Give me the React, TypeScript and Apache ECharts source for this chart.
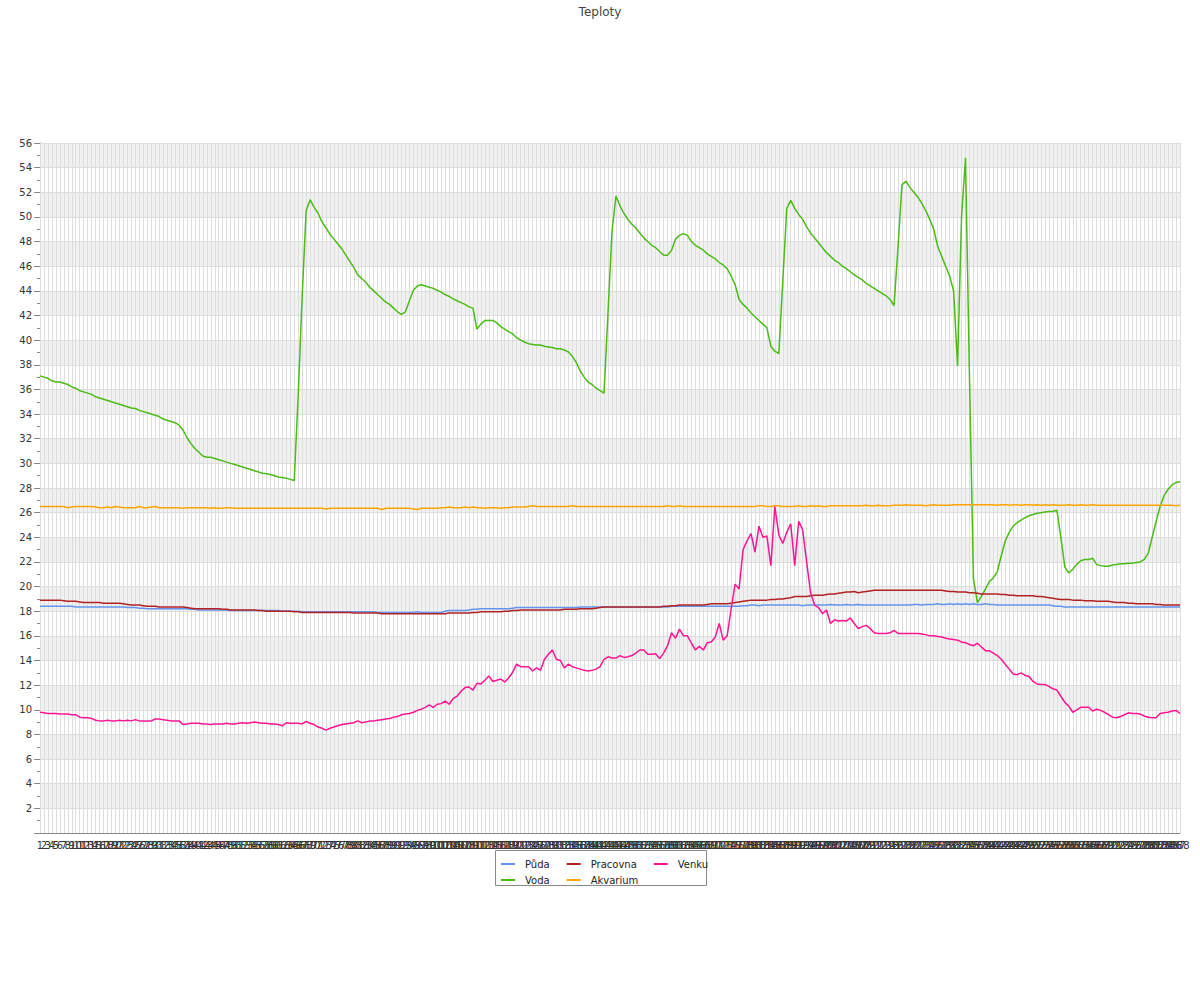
import React, { useEffect, useRef } from "react";
import * as echarts from "echarts";

const categories: string[] = Array.from({ length: 288 }, (_, i) => String(i + 1));

const puda: number[] = [
18.4,18.4,18.4,18.4,18.4,18.4,18.4,18.4,18.4,18.35,
18.35,18.35,18.35,18.35,18.35,18.35,18.35,18.35,18.35,18.35,
18.35,18.35,18.3,18.3,18.3,18.25,18.25,18.2,18.2,18.2,
18.2,18.2,18.2,18.2,18.2,18.2,18.2,18.2,18.15,18.15,
18.1,18.1,18.1,18.1,18.1,18.1,18.1,18.1,18.05,18.05,
18.05,18.05,18.05,18.05,18.05,18.05,18.05,18.05,18.05,18.05,
18.05,18.0,18.0,18.0,18.0,18.0,17.95,17.95,17.95,17.95,
17.95,17.95,17.95,17.95,17.95,17.95,17.95,17.95,17.95,17.95,
17.95,17.95,17.95,17.95,17.95,17.9,17.9,17.9,17.9,17.9,
17.9,17.9,17.9,17.9,17.9,17.95,17.9,17.9,17.9,17.9,
17.9,17.9,18.0,18.05,18.05,18.05,18.05,18.05,18.1,18.15,
18.15,18.2,18.2,18.2,18.2,18.2,18.2,18.2,18.2,18.25,
18.3,18.3,18.3,18.3,18.3,18.3,18.3,18.3,18.3,18.3,
18.3,18.3,18.3,18.3,18.3,18.3,18.35,18.35,18.35,18.35,
18.35,18.35,18.35,18.35,18.35,18.35,18.35,18.35,18.35,18.35,
18.35,18.35,18.35,18.35,18.35,18.35,18.35,18.35,18.35,18.4,
18.4,18.4,18.4,18.4,18.4,18.4,18.4,18.4,18.4,18.4,
18.4,18.4,18.4,18.4,18.4,18.4,18.4,18.45,18.45,18.5,
18.5,18.45,18.5,18.5,18.5,18.5,18.5,18.5,18.5,18.5,
18.5,18.5,18.45,18.5,18.5,18.5,18.5,18.5,18.5,18.55,
18.5,18.5,18.5,18.55,18.5,18.5,18.55,18.5,18.5,18.5,
18.5,18.5,18.5,18.5,18.5,18.5,18.5,18.5,18.5,18.5,
18.55,18.55,18.5,18.55,18.55,18.55,18.6,18.55,18.55,18.6,
18.55,18.6,18.55,18.6,18.55,18.6,18.55,18.55,18.6,18.55,
18.55,18.5,18.5,18.5,18.5,18.5,18.5,18.5,18.5,18.5,
18.5,18.5,18.5,18.5,18.5,18.45,18.4,18.4,18.35,18.35,
18.35,18.35,18.35,18.35,18.35,18.35,18.35,18.35,18.35,18.35,
18.35,18.35,18.35,18.35,18.35,18.35,18.35,18.35,18.35,18.35,
18.35,18.35,18.35,18.35,18.35,18.35,18.35,18.35,
];

const voda: number[] = [
37.1,37.0,36.9,36.7,36.6,36.6,36.5,36.4,36.2,36.1,
35.9,35.8,35.7,35.6,35.4,35.3,35.2,35.1,35.0,34.9,
34.8,34.7,34.6,34.5,34.45,34.3,34.2,34.1,34.0,33.9,
33.8,33.6,33.5,33.4,33.3,33.1,32.7,32.1,31.6,31.2,
30.9,30.6,30.5,30.5,30.4,30.3,30.2,30.1,30.0,29.9,
29.8,29.7,29.6,29.5,29.4,29.3,29.2,29.15,29.1,29.0,
28.9,28.85,28.8,28.7,28.6,35.5,43.5,50.5,51.4,50.8,
50.3,49.6,49.1,48.6,48.2,47.8,47.4,46.9,46.4,45.9,
45.3,45.0,44.7,44.3,44.0,43.7,43.4,43.1,42.9,42.6,
42.3,42.1,42.3,43.2,44.05,44.4,44.5,44.4,44.3,44.2,
44.05,43.9,43.7,43.55,43.35,43.2,43.05,42.9,42.7,42.6,
40.9,41.3,41.6,41.6,41.6,41.4,41.1,40.9,40.7,40.5,
40.2,40.0,39.85,39.7,39.65,39.6,39.6,39.5,39.45,39.4,
39.3,39.3,39.2,39.05,38.7,38.2,37.5,37.0,36.6,36.4,
36.1,35.9,35.7,42.2,48.8,51.7,50.9,50.3,49.8,49.4,
49.1,48.7,48.3,48.0,47.7,47.5,47.2,46.9,46.9,47.3,
48.2,48.5,48.65,48.5,48.0,47.7,47.5,47.3,47.0,46.8,
46.6,46.3,46.1,45.8,45.2,44.5,43.3,42.9,42.6,42.2,
41.9,41.6,41.3,41.0,39.5,39.1,38.9,44.8,50.7,51.35,
50.7,50.2,49.8,49.2,48.7,48.3,47.9,47.5,47.1,46.8,
46.5,46.3,46.0,45.8,45.55,45.3,45.1,44.9,44.6,44.4,
44.2,44.0,43.8,43.6,43.3,42.8,47.5,52.6,52.9,52.4,
52.0,51.6,51.1,50.5,49.8,49.0,47.6,46.8,46.0,45.2,
44.0,37.9,50.0,54.8,37.0,20.6,18.7,19.2,19.8,20.4,
20.7,21.2,22.5,23.7,24.4,24.9,25.2,25.4,25.6,25.75,
25.85,25.95,26.0,26.05,26.1,26.1,26.2,24.0,21.6,21.1,
21.4,21.8,22.1,22.2,22.2,22.3,21.8,21.7,21.65,21.65,
21.75,21.8,21.85,21.85,21.9,21.9,21.95,22.0,22.2,22.7,
24.0,25.3,26.5,27.4,27.9,28.25,28.45,28.5,
];

const pracovna: number[] = [
18.9,18.9,18.9,18.9,18.9,18.9,18.85,18.8,18.8,18.8,
18.75,18.7,18.7,18.7,18.7,18.7,18.65,18.65,18.65,18.65,
18.65,18.6,18.55,18.5,18.5,18.5,18.45,18.4,18.4,18.4,
18.35,18.35,18.35,18.35,18.35,18.35,18.35,18.3,18.25,18.2,
18.2,18.2,18.2,18.2,18.2,18.2,18.15,18.15,18.1,18.1,
18.1,18.1,18.1,18.1,18.1,18.05,18.05,18.0,18.0,18.0,
18.0,18.0,18.0,18.0,17.95,17.95,17.9,17.9,17.9,17.9,
17.9,17.9,17.9,17.9,17.9,17.9,17.9,17.9,17.9,17.85,
17.85,17.85,17.85,17.85,17.85,17.85,17.8,17.8,17.8,17.8,
17.8,17.8,17.8,17.8,17.8,17.8,17.8,17.8,17.8,17.8,
17.8,17.8,17.8,17.85,17.85,17.85,17.85,17.85,17.85,17.9,
17.9,17.95,17.95,17.95,17.95,17.95,17.95,18.0,18.0,18.05,
18.05,18.1,18.1,18.1,18.1,18.1,18.1,18.1,18.1,18.1,
18.1,18.1,18.15,18.15,18.15,18.15,18.2,18.2,18.2,18.2,
18.25,18.3,18.35,18.35,18.35,18.35,18.35,18.35,18.35,18.35,
18.35,18.35,18.35,18.35,18.35,18.35,18.35,18.4,18.4,18.45,
18.45,18.5,18.5,18.5,18.5,18.5,18.5,18.5,18.55,18.6,
18.6,18.6,18.6,18.6,18.65,18.7,18.75,18.8,18.85,18.9,
18.9,18.9,18.9,18.9,18.95,18.95,19.0,19.0,19.05,19.1,
19.2,19.2,19.2,19.2,19.25,19.3,19.3,19.3,19.35,19.4,
19.4,19.45,19.5,19.55,19.55,19.6,19.5,19.55,19.6,19.65,
19.7,19.7,19.7,19.7,19.7,19.7,19.7,19.7,19.7,19.7,
19.7,19.7,19.7,19.7,19.7,19.7,19.7,19.7,19.65,19.6,
19.6,19.55,19.55,19.55,19.5,19.5,19.45,19.4,19.4,19.4,
19.4,19.4,19.35,19.35,19.3,19.3,19.25,19.25,19.25,19.25,
19.25,19.2,19.2,19.15,19.1,19.05,19.0,18.95,18.95,18.95,
18.9,18.9,18.9,18.85,18.85,18.85,18.8,18.8,18.8,18.8,
18.75,18.7,18.7,18.7,18.65,18.65,18.6,18.6,18.6,18.6,
18.6,18.55,18.55,18.5,18.5,18.5,18.5,18.5,
];

const akvarium: number[] = [
26.5,26.5,26.5,26.5,26.5,26.5,26.5,26.4,26.45,26.5,
26.5,26.5,26.5,26.5,26.45,26.4,26.4,26.45,26.4,26.5,
26.45,26.4,26.4,26.4,26.4,26.5,26.4,26.4,26.45,26.5,
26.4,26.4,26.4,26.4,26.4,26.4,26.35,26.4,26.4,26.4,
26.4,26.4,26.4,26.35,26.4,26.35,26.35,26.4,26.4,26.35,
26.35,26.35,26.35,26.35,26.35,26.35,26.35,26.35,26.35,26.35,
26.35,26.35,26.35,26.35,26.35,26.35,26.35,26.35,26.35,26.35,
26.35,26.35,26.3,26.35,26.35,26.35,26.35,26.35,26.35,26.35,
26.35,26.35,26.35,26.35,26.35,26.35,26.25,26.35,26.35,26.35,
26.35,26.35,26.35,26.35,26.3,26.25,26.35,26.35,26.35,26.35,
26.35,26.4,26.4,26.45,26.4,26.4,26.4,26.45,26.4,26.45,
26.4,26.4,26.35,26.4,26.4,26.4,26.35,26.4,26.4,26.45,
26.45,26.45,26.45,26.5,26.55,26.5,26.5,26.5,26.5,26.5,
26.5,26.5,26.5,26.5,26.55,26.5,26.5,26.5,26.5,26.5,
26.5,26.5,26.5,26.5,26.5,26.5,26.5,26.5,26.5,26.5,
26.5,26.5,26.5,26.5,26.5,26.5,26.5,26.5,26.55,26.5,
26.5,26.55,26.5,26.5,26.5,26.5,26.5,26.5,26.5,26.5,
26.5,26.5,26.5,26.5,26.5,26.5,26.5,26.5,26.5,26.5,
26.5,26.55,26.55,26.5,26.5,26.55,26.55,26.5,26.5,26.5,
26.5,26.55,26.5,26.5,26.55,26.5,26.55,26.5,26.5,26.55,
26.55,26.55,26.55,26.55,26.55,26.55,26.55,26.55,26.6,26.55,
26.55,26.6,26.55,26.55,26.55,26.6,26.6,26.6,26.65,26.6,
26.6,26.6,26.6,26.55,26.6,26.65,26.6,26.6,26.6,26.6,
26.65,26.65,26.65,26.65,26.65,26.65,26.65,26.65,26.65,26.65,
26.65,26.6,26.65,26.65,26.6,26.65,26.65,26.6,26.65,26.65,
26.6,26.65,26.6,26.65,26.6,26.65,26.6,26.6,26.6,26.65,
26.6,26.6,26.65,26.6,26.6,26.65,26.6,26.6,26.6,26.6,
26.6,26.6,26.6,26.6,26.6,26.6,26.6,26.6,26.6,26.6,
26.6,26.6,26.6,26.6,26.6,26.6,26.55,26.6,
];

const venku: number[] = [
9.8,9.75,9.7,9.7,9.7,9.65,9.65,9.65,9.6,9.6,
9.4,9.35,9.35,9.3,9.15,9.1,9.1,9.15,9.1,9.1,
9.15,9.1,9.15,9.1,9.2,9.1,9.1,9.1,9.1,9.25,
9.25,9.2,9.15,9.1,9.1,9.1,8.8,8.85,8.9,8.9,
8.9,8.85,8.85,8.8,8.85,8.85,8.85,8.9,8.85,8.85,
8.9,8.95,8.9,8.95,9.0,8.95,8.9,8.9,8.85,8.85,
8.8,8.7,8.95,8.9,8.9,8.9,8.85,9.05,8.9,8.8,
8.6,8.5,8.35,8.5,8.6,8.7,8.8,8.85,8.9,8.95,
9.1,8.95,9.0,9.1,9.1,9.15,9.2,9.25,9.3,9.4,
9.45,9.6,9.65,9.7,9.8,9.95,10.05,10.2,10.4,10.2,
10.45,10.5,10.7,10.45,10.9,11.1,11.5,11.8,11.85,11.6,
12.15,12.1,12.4,12.75,12.3,12.4,12.5,12.25,12.6,13.05,
13.7,13.5,13.5,13.5,13.15,13.4,13.2,14.1,14.5,14.85,
14.1,14.0,13.4,13.7,13.5,13.4,13.3,13.2,13.15,13.2,
13.3,13.5,14.1,14.3,14.2,14.2,14.4,14.25,14.3,14.4,
14.6,14.85,14.85,14.5,14.5,14.55,14.15,14.6,15.2,16.25,
15.8,16.55,16.0,16.0,15.4,14.85,15.15,14.85,15.45,15.5,
15.9,17.0,15.65,16.0,18.2,20.2,19.8,23.0,23.7,24.3,
22.8,24.9,24.0,24.1,21.7,26.5,24.2,23.5,24.4,25.1,
21.7,25.3,24.6,22.0,19.5,18.5,18.3,17.8,18.1,17.0,
17.3,17.2,17.25,17.2,17.45,17.0,16.6,16.75,16.85,16.6,
16.25,16.2,16.2,16.2,16.25,16.45,16.2,16.2,16.2,16.2,
16.2,16.2,16.15,16.1,16.0,16.0,15.95,15.9,15.8,15.75,
15.7,15.65,15.5,15.45,15.3,15.2,15.4,15.1,14.8,14.8,
14.6,14.4,14.1,13.7,13.3,12.9,12.85,13.0,12.8,12.7,
12.3,12.1,12.05,12.05,11.9,11.7,11.6,11.1,10.6,10.3,
9.8,10.0,10.2,10.2,10.2,9.9,10.05,9.95,9.8,9.6,
9.4,9.35,9.45,9.6,9.75,9.7,9.7,9.65,9.5,9.4,
9.35,9.35,9.7,9.75,9.8,9.9,9.95,9.7,
];

const seriesNames = ["Půda", "Voda", "Pracovna", "Akvarium", "Venku"];
const seriesColors = ["#6495ed", "#4cbb17", "#b22222", "#ffa500", "#ff1493"];
const seriesData = [puda, voda, pracovna, akvarium, venku];
const legendRow1 = ["Půda", "Pracovna", "Venku"];
const legendRow2 = ["Voda", "Akvarium"];

export default function App() {
  const ref = useRef<HTMLDivElement>(null);
  useEffect(() => {
    if (!ref.current) return;
    const chart = echarts.init(ref.current, null, { renderer: "svg" });
    const legendCommon = {
      orient: "horizontal",
      left: 496,
      icon: "rect",
      itemWidth: 14,
      itemHeight: 2,
      itemGap: 17,
      textStyle: { fontSize: 10, color: "#222", padding: [0, 0, 0, 5] },
    };
    chart.setOption({
      animation: false,
      textStyle: { fontFamily: "DejaVu Sans" },
      title: {
        text: "Teploty",
        left: "center",
        top: 1,
        textStyle: { fontSize: 12, fontWeight: "normal", color: "#444" },
      },
      legend: [
        { ...legendCommon, top: 854, data: legendRow1 },
        { ...legendCommon, top: 870, data: legendRow2 },
      ],
      graphic: [
        {
          type: "rect",
          shape: { x: 495.5, y: 850.5, width: 211, height: 35 },
          style: { fill: "none", stroke: "#888", lineWidth: 1 },
          silent: true,
        },
      ],
      grid: { left: 40, right: 20, top: 143, bottom: 167, containLabel: false },
      xAxis: {
        type: "category",
        data: categories,
        boundaryGap: false,
        z: 1,
        axisLine: { lineStyle: { color: "#888" } },
        axisTick: { show: false },
        axisLabel: { interval: 0, fontSize: 10, color: "#333", margin: 7 },
        splitLine: { show: true, interval: 0, lineStyle: { color: "#dddddd", width: 1 } },
      },
      yAxis: {
        type: "value",
        min: 0,
        max: 56,
        interval: 2,
        z: 0,
        axisLine: { show: true, lineStyle: { color: "#888" } },
        axisTick: { show: true, length: 6, lineStyle: { color: "#888" } },
        minorTick: { show: true, splitNumber: 2, length: 3, lineStyle: { color: "#888" } },
        axisLabel: { fontSize: 10, color: "#333", showMinLabel: false, margin: 8 },
        splitLine: { show: true, lineStyle: { color: "#dddddd" } },
        splitArea: { show: true, areaStyle: { color: ["rgba(255,255,255,0)", "#f1f1f1"] } },
      },
      series: seriesNames.map((name, k) => ({
        name,
        type: "line",
        data: seriesData[k],
        symbol: "none",
        showSymbol: false,
        color: seriesColors[k],
        lineStyle: { width: 1.5, color: seriesColors[k] },
      })),
    });
    return () => chart.dispose();
  }, []);
  return (
    <div
      ref={ref}
      style={{ position: "absolute", left: 0, top: 0, width: 1200, height: 1000, background: "#fff" }}
    />
  );
}
